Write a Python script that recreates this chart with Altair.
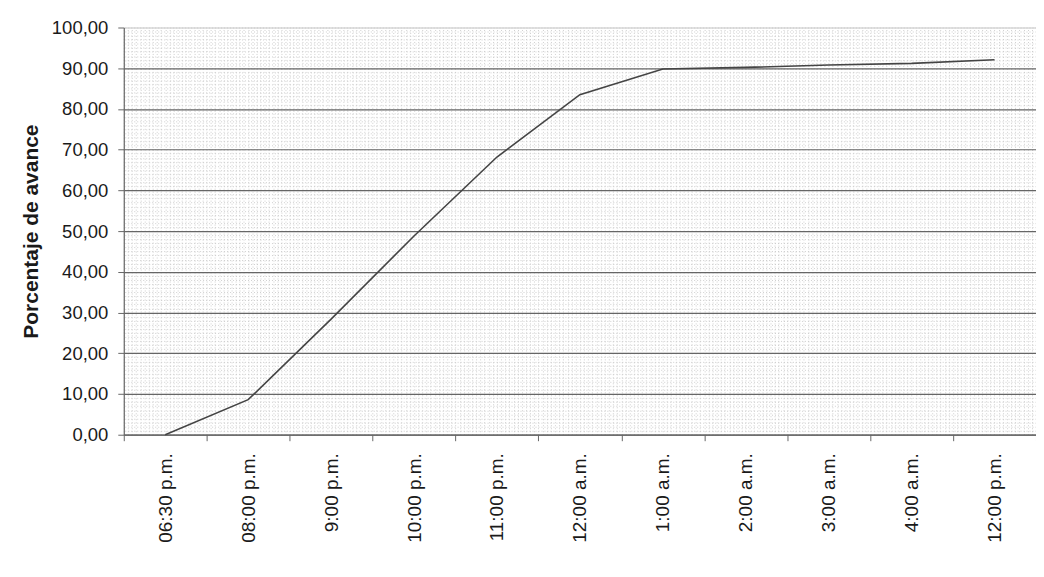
import altair as alt
import pandas as pd
import numpy as np

# ---- data ----
horas = ["06:30 p.m.", "08:00 p.m.", "9:00 p.m.", "10:00 p.m.", "11:00 p.m.",
         "12:00 a.m.", "1:00 a.m.", "2:00 a.m.", "3:00 a.m.", "4:00 a.m.", "12:00 p.m."]
avance = [0.0, 8.6, 28.4, 48.8, 68.2, 83.5, 89.8, 90.2, 90.8, 91.2, 92.1]
y_ticks = [0, 10, 20, 30, 40, 50, 60, 70, 80, 90, 100]

minor_y = list(range(0, 101, 1))
minor_x = [round(v, 3) for v in np.arange(-0.5, 10.5001, 0.05)]

df = pd.DataFrame({"hora": horas, "avance": avance, "idx": list(range(len(horas)))})

FONT = "Liberation Sans"
TXT = "#1a1a1a"
base = alt.Chart(df)

minor = base.mark_point(opacity=0).encode(
    x=alt.X("idx:Q",
            scale=alt.Scale(domain=[-0.5, 10.5], nice=False, zero=False),
            axis=alt.Axis(orient="top", values=minor_x, labels=False, ticks=False,
                          domain=False, grid=True, gridColor="#b0b0b0",
                          gridDash=[1, 2], gridWidth=0.6, title=None)),
    y=alt.Y("avance:Q",
            scale=alt.Scale(domain=[0, 100], nice=False, zero=False),
            axis=alt.Axis(orient="right", values=minor_y, labels=False, ticks=False,
                          domain=False, grid=True, gridColor="#b0b0b0",
                          gridDash=[1, 2], gridWidth=0.6, title=None)),
)

line = base.mark_line(color="#444444", strokeWidth=1.6).encode(
    x=alt.X("hora:N", sort=horas,
            scale=alt.Scale(type="band", paddingInner=0, paddingOuter=0),
            axis=alt.Axis(title=None, labelAngle=-90, labelAlign="right",
                          labelBaseline="middle", tickBand="extent", grid=False,
                          labelFont=FONT, labelFontSize=19, labelColor=TXT,
                          labelPadding=12, tickSize=6, tickColor="#666666",
                          domainColor="#666666", domainWidth=1.2)),
    y=alt.Y("avance:Q",
            scale=alt.Scale(domain=[0, 100], nice=False, zero=False),
            axis=alt.Axis(values=y_ticks, title="Porcentaje de avance",
                          labelExpr="replace(format(datum.value, '.2f'), '.', ',')",
                          labelFont=FONT, labelFontSize=18.5, labelColor=TXT,
                          labelPadding=10, tickSize=6, tickColor="#666666",
                          domainColor="#666666", domainWidth=1.2,
                          grid=True,
                          gridColor=alt.condition("datum.value == 100",
                                                  alt.value("#c4c4c4"),
                                                  alt.value("#666666")),
                          gridWidth=1.2,
                          titleFont=FONT, titleFontSize=21, titleFontWeight="bold",
                          titleColor=TXT, titlePadding=10)),
)

chart = alt.layer(minor, line).resolve_scale(
    x="independent", y="independent"
).properties(
    width=914, height=408,
    autosize=alt.AutoSizeParams(type="none"),
    padding={"left": 116, "top": 19, "right": 0, "bottom": 130},
    background="white",
).configure_view(stroke=None)

chart.save("out.html", embed_options={"renderer": "svg", "actions": False})
